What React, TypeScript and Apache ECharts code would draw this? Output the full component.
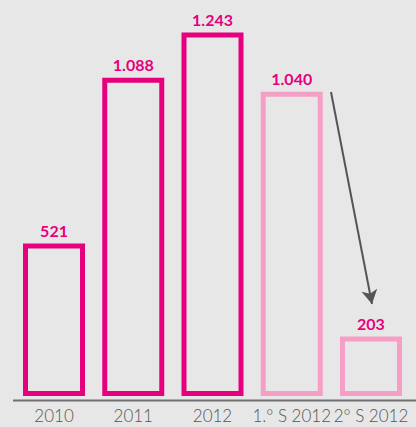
import React, { useEffect, useRef } from "react";
import * as echarts from "echarts";

const categories = ["2010", "2011", "2012", "1.° S 2012", "2° S 2012"];
const values = [521, 1088, 1243, 1040, 203];
const barColors = ["#e6007e", "#e6007e", "#e6007e", "#f59fc6", "#f59fc6"];

const fmt = (v: number) => {
  const s = String(v);
  return s.length > 3 ? s.slice(0, s.length - 3) + "." + s.slice(s.length - 3) : s;
};

export default function App() {
  const ref = useRef<HTMLDivElement>(null);
  useEffect(() => {
    document.body.style.margin = "0";
    const chart = echarts.init(ref.current!, undefined, { renderer: "svg" });
    chart.setOption({
      animation: false,
      backgroundColor: "#e7e7e7",
      grid: { left: 14.4, right: 5.4, top: 15.75, bottom: 31 },
      xAxis: {
        type: "category",
        data: categories,
        axisLine: { show: false },
        axisTick: { show: false },
        axisLabel: {
          interval: 0,
          margin: 10.5,
          color: "#555",
          fontFamily: "Lato",
          fontWeight: 300,
          fontSize: 17,
        },
      },
      yAxis: { type: "value", min: 0, max: 1300, show: false, splitLine: { show: false } },
      graphic: [
        {
          type: "line",
          shape: { x1: 13, y1: 400.5, x2: 416, y2: 400.5 },
          style: { stroke: "#707070", lineWidth: 2 },
          z: 10,
        },
      ],
      series: [
        {
          type: "bar",
          barWidth: 62,
          data: values.map((v, i) => ({
            value: v,
            itemStyle: { color: "rgba(0,0,0,0)", borderColor: barColors[i], borderWidth: 5 },
          })),
          label: {
            show: true,
            position: "top",
            distance: 5,
            color: "#e6007e",
            fontFamily: "Lato",
            fontWeight: "bold",
            fontSize: 16,
            formatter: (p: any) => fmt(p.value),
          },
          markLine: {
            silent: true,
            symbol: ["none", "arrow"],
            symbolSize: [12, 14],
            label: { show: false },
            lineStyle: { color: "#555", width: 2, type: "solid" },
            data: [[{ x: 331, y: 92 }, { x: 372, y: 304 }]],
          },
        },
      ],
    });
    return () => chart.dispose();
  }, []);
  return <div ref={ref} style={{ width: 416, height: 427 }} />;
}
